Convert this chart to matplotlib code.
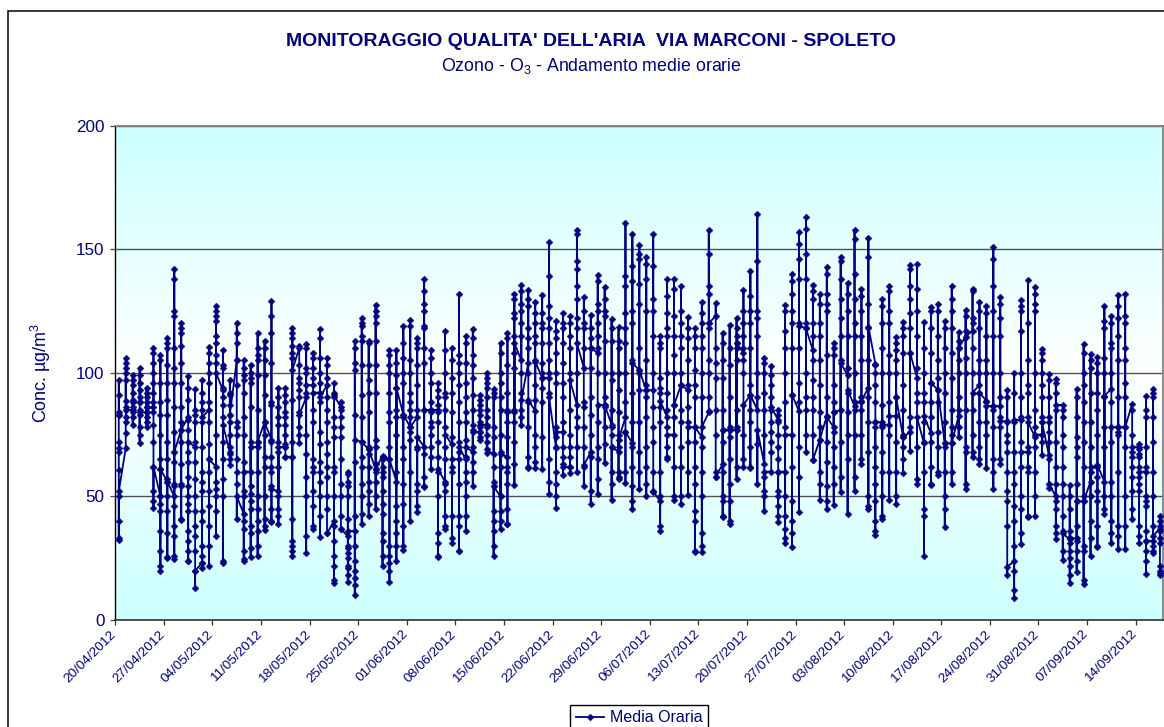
import matplotlib
matplotlib.use("Agg")
import numpy as np
import matplotlib.pyplot as plt
from matplotlib.colors import LinearSegmentedColormap
from matplotlib.patches import Rectangle
from matplotlib.transforms import ScaledTranslation

plt.rcParams['font.family'] = ['Liberation Sans', 'DejaVu Sans']
plt.rcParams['mathtext.default'] = 'regular'

# Each inner list holds the readings of one day (first and last reading joined to neighbours)
week_01 = [
 [83,97,91,83,84,72,69.5,68,60.5,50,40,33,32.5,52],
 [69.5,106,104,102,100,97,88.5,86,82,80,75.5,85],
 [85,99,97,95,92,89,86,84,82,79,88],
 [88,102,99,96,93,90,88,85,83,78,75,71.5,84],
 [84,94,92,90,88,86,84,82,80,78,86],
 [86,110,108,104,100,96,92,88,84,79,72,62,52,48,45.5,62],
 [50,107,105,96,88,83,75,65,61,50,47,44,36,28,22,20,61]]
week_02 = [
 [56,114,112,110,103,96,89,83,72,65,57,50,44,35,25.5,25,56],
 [50,142,138,125,123,110,102,96,86,76,68,64,55,54,46,38,34,26,24.6,68],
 [77,120,118,116,111,104,96,86,80,72,63,55,54,40.5,41,77],
 [82,98.5,94,89,81,77,68,64,58,54,50,47,44,36,32,28,24,23.7,72],
 [70,93.5,85,83,80,72,64,57,50,44,38,34,28,20,13,20],
 [23,97,92,88,85,80,70,60,56,52,44,40,30,26,21,23,82],
 [85,110.5,108,104,100,96,88,80,71,65,60,52,46,38,30,22,65]]
week_03 = [
 [62,127,125,123,121,115,112,107,104,75,56,53,50,44,34,100],
 [93,109,103,102,94,90,87,82,72,65,57,50,24,23,79],
 [68,97,92,91,87,83,80,75,70,67,65,62.6,83],
 [105,120,116,112,105,95,80,78,75,65,60,55,41,50],
 [43,105,102,99,97,92,82,75,64,52,50,40,37,28,24,24.5,60],
 [60,103,100,98,96,86,72,54,51,48,45,38,35,29,25.5,70],
 [70,116,110,107,105,99,85,72,60,50,45,40,36,30,25.7,72]]
week_04 = [
 [80,113,110,105,99,91,75,66,62,50,41,38,36.4,80],
 [73,129,123,116,104,88,87,72,66,62,60,54,45,40,39.7,53],
 [52,94,90,86,82,79,72,68,62,50,45,42,39,70],
 [70,94,91,88,84,82,79,75,71,70,66,66],
 [66,118,116,114,111,108,106,89,72,66,41,32,30,28,26,101],
 [110,111,103,98,96,93,90,84,78,75,71.5,83],
 [90,111.6,110,102,100,92,75,67,58,50,34,27,95]]
week_05 = [
 [95,108,106,102,98,85,80,65,62,60,52,46,38,36.7,92],
 [92,117.6,114,106,100,96,88,76,71,64,60,56,50,42,33.6,90],
 [95,106,103,98,90,85,80,72,67,62,58,50,45,35,35],
 [40,96,92,90,82,78,74,62,60,50,38,32,26,22,16,15,91],
 [86,88,85,82,78,74,65,55,50,42,36.7,36.7],
 [34,60,59,56,54,50,41,30,29,27,25,22,21,18,15.5,36],
 [36,113,110,104,101,83,64,42,30,24,20,17,14,10,73]]
week_06 = [
 [72,122,120,119,115,113,103,91,82,66,62,55,50,43,39,72],
 [69,113,112,103,97,92,84,70,67,62,56,52,47,42,69],
 [61,127.6,125,123,120,113,103,92,73,70,63,60,56,50,45,61],
 [66.5,66,65,62,60,58,52,47,43,35,32,26,22,66],
 [65,109,107,103,100,92,84,80,70,30,26,23,20,15.5,65],
 [56,109.4,104,99,94,85,82,75,60,46,40,35,30,23.7,94],
 [83,119,112,106,100,96,82,70,65,55,47,38,30,28.5,83]]
week_07 = [
 [78,121.5,119,105,100,92,88,85,82,76,73,60,40,78],
 [82,114,112,110,103,95,85,70,69,55,52,46,43.5,74],
 [70,138,133,128,125,119,118,110,104,85,67,58,54,53.8,85],
 [85,109,106,100,96,88,84,80,78,75,70,66,61,85],
 [85,96,93,90,87,84,80,72,66,60,50,35,31,26,25.5,61],
 [56,116.7,109,100,92,90,85,78,70,65,55,52,42,38,37,75],
 [71,110,105,98,92,84,74,62,60,42,33,31,65]]
week_08 = [
 [65,132,107,104,100,95,88,80,72,68,55,42,38,28,27.8,70],
 [65,115,112,104,96,90,84,80,73,66,60,56,50,42,36,70],
 [68,117.6,114,107,103,98,91,85,79,77,70,64,60,54,76],
 [76,91,89,87,85,83,80,78,76,74,73,79],
 [79,100,98,96,94,90,85,82,78,75,72,67.5,69],
 [67,93.5,92,90,78,74,62,56,54,44,40,36,30,26,54],
 [50,112,108,100,96,90,85,75,68,62,50,44,40,36.7,67]]
week_09 = [
 [66,116,114,103,92,85,80,74,62,60,55,45,39,38.7,84],
 [84,131.7,130,124,122,115,108,102,85,80,72,63,54.7,112],
 [105,135.4,133,128,125,120,115,100,92,85,82,79,89],
 [104,133.5,130,127,118,114,110,100,88,78,66,62,61.6,89],
 [84.5,128.7,124,120,115,112,105,95,89,75,70,64,61.6,104.5],
 [98,131.5,124,120,118,112,104,100,94,88,74,61,98],
 [98,153,139,127,122,118,112,105,100,92,65,56,51,90]]
week_10 = [
 [69.5,121,117,114,108,100,96,78,74,70,60,55,50,45.5,76],
 [76,124,120,118,112,104,96,90,80,70,66,63,58.5,62],
 [62,123,120,115,110,100,85,75,70,66,62,59.6,97],
 [87,157.7,156,145,142,135,130,122,118,100,82,78,70,60,112],
 [102,130.6,125,120,118,110,88,86,78,70,62,54,62.6],
 [68,123.5,118,114,110,102,90,83,75,66,52,47,110],
 [108,139.7,137,128,125,120,115,110,100,80,70,65,57,51,87]]
week_11 = [
 [87,134.5,130,125,123,113,100,90,86,78,71,63.3,87],
 [79,121.7,118,113,100,97,85,78,75,70,60,55,48.7,70],
 [68,118.5,113,110,100,93,84,75,70,60,58,57,73],
 [82,160.6,139,135,124,118,112,100,88,76,60,55.4,76],
 [71.5,156,143,137,125,120,105,92,80,70,62,54,45,48,104],
 [101,151.6,148,146,136,128,110,100,93,80,68,60,52.8,101],
 [93,146.8,144,138,125,105,95,90,82,70,62,55,50,93]]
week_12 = [
 [93,156,143,130,125,115,100,86,78,72,60,51.7,52],
 [48,115,112,110,98,94,92,86,80,60,50,38,36,88.6],
 [82,138,131,124,118,115,100,92,85,78,70,66,65,75],
 [75,138,134,123,115,107,100,87,82,62,50,48.6,87],
 [95,135,125,120,115,110,100,85,80,70,62,50,47,95],
 [93,122.4,118,114,105,95,86,80,72,60,50.7,78],
 [78,118,115,110,101,95,90,72,62,55,44,40,28,27.5,78]]
week_13 = [
 [74,128.6,124,120,115,110,100,90,70,60,50,35,30,27.5,78],
 [84,157.7,148,135,132,120,118,105,100,90,84.5,120],
 [123,128.3,110,104,98,85,75,60,58,58],
 [63,116,112,105,98,85,77,72,60,50,48,42,41.5,77],
 [77,119.4,110,103,90,78,74,65,55,48,40,39,77],
 [77,122,118,115,112,110,105,85,78,62,57,112],
 [108,133.4,125,120,115,110,105,100,75,65,62,87]]
week_14 = [
 [91,141,131,125,120,110,95,85,80,70,62,61.3,91],
 [85,164.4,145,125,122,115,100,90,71,55,77],
 [63,106,104,100,92,85,75,58,52,50,44,60],
 [60,102.6,99,95,90,85,80,76,72,68,86],
 [81,85,83,80,75,70,65,60,52,50,46,42,39.7,60],
 [60,127.6,125,117,110,100,88,78,50,42,37,33,31,75],
 [75,140,137,132,125,120,110,91,62,48,40,35,29.4,91]]
week_15 = [
 [84.5,156.8,152,146,138,120,110,96,88,70,58,43.8,119],
 [118,163,158,148,138,120,100,90,85,75,68,118],
 [109,135.6,133,130,120,115,105,97,90,85,75,64.7,64.7],
 [73,132,128,120,115,105,95,84,78,60,55,48.7,73],
 [82.5,142.7,140,132,128,125,107,90,72,64,54,48,45,82],
 [78,112,110,107,95,88,84,76,70,62,55,46.6,84],
 [85,147,145,138,130,122,115,105,72,58,51.7,104]]
week_16 = [
 [99,136.5,132,125,115,102,92,84,75,65,43,93],
 [86.6,157.9,154,140,130,120,115,100,85,75,58,52,88],
 [88,133.8,131,125,115,105,90,85,75,65,63,88.6],
 [94,154.3,147,128,118,105,90,80,68,50,46,45,118.7],
 [103.7,103,100,95,88,80,78,70,62,55,48,40,36,34.3,80],
 [80,129.7,127,120,110,100,87,78,68,60,50,42,41,79],
 [79,135,133,125,120,107,100,88,75,60,48.7,82.5]]
week_17 = [
 [82.5,114.6,112,109,105,100,90,72,60,50,47,90],
 [74,120.4,118,115,108,95,85,75,70,65,59.6,74],
 [76,143.4,142,135,130,124,118,108,82,78,68.4,108],
 [98,144,134,125,115,102,92,88,70,57,55,82],
 [71.5,120.4,110,100,92,88,80,72,60,45,42,26,82.5],
 [75.6,126.5,125,118,108,96,88,82,72,62,55,54.7,96],
 [93,128,125,115,105,98,88,76,70,60,58.8,93]]
week_18 = [
 [71.5,120.8,118,110,100,92,80,70,60,50,45,37.8,71.5],
 [71.5,135,130,125,118,108,98,85,78,75,60,54.9,71.5],
 [82.5,116.4,113,110,105,100,90,85,78,73.9,110],
 [114.6,125.3,123,117,106,100,85,70,68,55,53,114.6],
 [117,134,133,122,120,110,100,85,75,68,65.8,92],
 [95,128.6,125,118,105,100,92,80,70,65,63,92],
 [88.6,127,124,115,105,100,88,80,75,61.3,86.6]]
week_19 = [
 [86.6,151,146,135,125,115,100,85,78,65,60,53,86.6],
 [86.6,130.6,128,122,115,100,90,82,78,63,65,80.4],
 [80.4,93,90,80,75,72,68,60,52,48,38,18,21.6],
 [23.7,100,92,80,68,60,55,46,40,30,20,12,9,81],
 [81,129.4,127,125,117,100,90,82,72,62,50,45,35,30.8,68],
 [68,137.6,120,105,95,92,82,70,62,60,42,41.7,80],
 [74,134.5,132,128,125,100,85,78,70,60,50,42,75]]
week_20 = [
 [75,109.8,108,105,100,95,90,82,80,72,66.8,80],
 [66.8,99.3,97,90,82,80,76,72,65,55,53.4,55],
 [50,97.5,96,92,85,72,62,55,48,45,38,35,32.6,87],
 [87,85,82,75,70,62,55,50,42,36,28,24.4,35],
 [32.6,54.7,50,45,36,33,31,28,25,22,18,15,33],
 [33,93.4,90,82,74,70,66,55,48,38,32,28,24,19.6,48],
 [48,111.6,108,100,95,88,80,72,62,50,30,28,16,14.5,48]]
week_21 = [
 [56,107.5,105,102,92,80,70,60,50,40,33,25.7,62],
 [62,106.4,104,100,92,85,75,58,52,48,38,30,29.4,62.6],
 [56,127,121,118,106,100,90,78,70,50,45,43,90.7],
 [93.4,123,120,112,110,100,88,72,56,50,40,35,31,78],
 [78,131.5,127,122,115,105,90,76,75,60,38,34,28.7,78],
 [78,131.7,123,120,110,105,96,90,70,50,38,28.9,78],
 [87.5,85,75,68,66,62,58,52,45,40.8,70]]
week_22 = [
 [70,71,69,67,66,62,58,55,52,38,34,31,60],
 [60,90.7,85,82,70,62,50,48,46,36,32,28,24,18.5,32],
 [32,93.4,92,90,82,72,60,50,38,30,28,27,34],
 [37,41.9,40,38,36,33,31,22,20,19,18]]

tick_labels = ['20/04/2012','27/04/2012','04/05/2012','11/05/2012','18/05/2012','25/05/2012',
               '01/06/2012','08/06/2012','15/06/2012','22/06/2012','29/06/2012','06/07/2012',
               '13/07/2012','20/07/2012','27/07/2012','03/08/2012','10/08/2012','17/08/2012',
               '24/08/2012','31/08/2012','07/09/2012','14/09/2012']
y_ticks = [0, 50, 100, 150, 200]

days = (week_01 + week_02 + week_03 + week_04 + week_05 + week_06 + week_07 + week_08 +
        week_09 + week_10 + week_11 + week_12 + week_13 + week_14 + week_15 + week_16 +
        week_17 + week_18 + week_19 + week_20 + week_21 + week_22)
xs = [i for i, d in enumerate(days) for _ in d]
ys = [v for d in days for v in d]

W, H = 1164, 727
NAVY = '#000080'
fig = plt.figure(figsize=(W/100, H/100), dpi=100, facecolor='white')
L, R, T, B = 115.3, 1163.4, 125.5, 620.0
ax = fig.add_axes([L/W, 1-B/H, (R-L)/W, (B-T)/H])

# outer chart frame
fig.add_artist(Rectangle((7.5/W, -0.1), 1.2, 1.1-10.5/H, transform=fig.transFigure,
                         fill=False, ec='black', lw=1.1))

cmap = LinearSegmentedColormap.from_list('bg', ['#CCFFFF', '#FFFFFF', '#CCFFFF'])
ax.imshow(np.linspace(0, 1, 256).reshape(-1, 1), aspect='auto', cmap=cmap,
          extent=(-0.5, len(days)-0.5, 0, 200), zorder=0)

ax.plot(xs, ys, color=NAVY, lw=1.3, marker='D', ms=3.5, mew=0.3, mec=NAVY, mfc=NAVY,
        zorder=3, label='Media Oraria', clip_on=True)

ax.set_xlim(-0.5, len(days)-0.5)
ax.set_ylim(0, 200)
ax.set_xticks([-0.5 + 7*k for k in range(len(tick_labels))])
ax.set_xticklabels(tick_labels, rotation=45, ha='right', va='top', rotation_mode='anchor',
                   fontsize=9.7, color=NAVY)
ax.set_yticks(y_ticks)
ax.tick_params(axis='y', length=3.6, width=0.9, color='#444444', labelsize=12.3, labelcolor=NAVY, pad=4)
ax.tick_params(axis='x', length=3.6, width=0.9, color='#333333', pad=3)
shift = ScaledTranslation(-5/100, 1/100, fig.dpi_scale_trans)
for lab in ax.get_xticklabels():
    lab.set_transform(lab.get_transform() + shift)
ax.grid(axis='y', color='#505050', lw=1.0, zorder=1)
ax.set_axisbelow(True)
ax.spines['left'].set_color('black'); ax.spines['left'].set_linewidth(1.0)
ax.spines['bottom'].set_color('#404040'); ax.spines['bottom'].set_linewidth(1.3)
ax.spines['top'].set_color('#808080'); ax.spines['top'].set_linewidth(1.3)
ax.spines['right'].set_color('#808080'); ax.spines['right'].set_linewidth(1.3)

fig.text(591/W, 1-41.5/H, "MONITORAGGIO QUALITA' DELL'ARIA  VIA MARCONI - SPOLETO", ha='center', va='center',
         fontsize=14.0, fontweight='bold', color=NAVY)
fig.text(591/W, 1-66.5/H, "Ozono - O$_{3}$ - Andamento medie orarie", ha='center', va='center',
         fontsize=12.8, color=NAVY)
fig.text(40.5/W, 1-373/H, "Conc. µg/m$^{3}$", rotation=90, ha='center', va='center',
         fontsize=12.9, color=NAVY)

leg = fig.legend(loc='upper left', bbox_to_anchor=(570/W, 1-704.5/H), fontsize=11.5,
                 frameon=True, fancybox=False, edgecolor='black', framealpha=1,
                 labelcolor=NAVY, handlelength=1.8, borderpad=0.35, borderaxespad=0, handletextpad=0.35)
leg.get_frame().set_linewidth(1.0)

fig.savefig('out.png', dpi=100)
